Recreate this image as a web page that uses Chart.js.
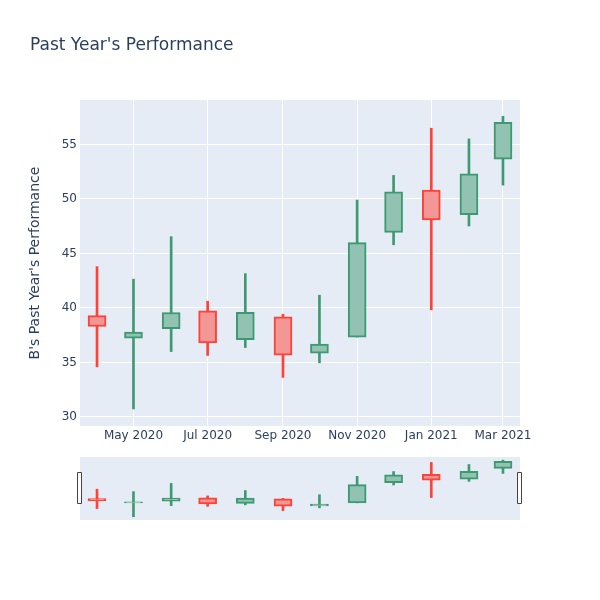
<!DOCTYPE html>
<html>
<head>
<meta charset="utf-8">
<script src="https://cdn.jsdelivr.net/npm/chart.js@4/dist/chart.umd.min.js"></script>
<style>
  body { margin: 0; background: #fff; }
  #wrap { position: relative; width: 600px; height: 600px; }
  #main { position: absolute; left: 0; top: 0; }
  #slider { position: absolute; left: 0; top: 440px; }
</style>
</head>
<body>
<div id="wrap">
  <canvas id="main" width="600" height="455"></canvas>
  <canvas id="slider" width="600" height="100"></canvas>
</div>
<script>
// monthly candles
const months = ['2020-04-01', '2020-05-01', '2020-06-01', '2020-07-01', '2020-08-01', '2020-09-01',
                '2020-10-01', '2020-11-01', '2020-12-01', '2021-01-01', '2021-02-01', '2021-03-01'];
const openVals  = [39.30, 37.23, 38.09, 39.73, 37.08, 39.18, 35.86, 37.33, 46.94, 50.81, 48.55, 53.65];
const highVals  = [43.79, 42.64, 46.54, 40.62, 43.15, 39.43, 41.17, 49.90, 52.16, 56.49, 55.51, 57.59];
const lowVals   = [34.60, 30.73, 36.00, 35.64, 36.37, 33.63, 34.97, 37.33, 45.80, 39.83, 47.52, 51.27];
const closeVals = [38.30, 37.78, 39.58, 36.80, 39.61, 35.68, 36.68, 46.00, 50.66, 48.07, 52.31, 57.04];

const yTicks = [30, 35, 40, 45, 50, 55];
const xTickDates = ['2020-05-01', '2020-07-01', '2020-09-01', '2020-11-01', '2021-01-01', '2021-03-01'];
const xTickLabels = ['May 2020', 'Jul 2020', 'Sep 2020', 'Nov 2020', 'Jan 2021', 'Mar 2021'];

const yRange = [29.17, 59.08];
const xRange = ['2020-03-18', '2021-03-15'];

const UP = '#3D9970', DOWN = '#FF4136';
const UP_FILL = '#92C3B2', DOWN_FILL = '#F29696';
const TEXT = '#2a3f5f';
const FONT = '"DejaVu Sans", verdana, arial, sans-serif';

function dayNum(s) {
  const [y, m, d] = s.split('-').map(Number);
  return Date.UTC(y, m - 1, d) / 86400000;
}

const xs = months.map(dayNum);
const isUp = openVals.map((o, i) => closeVals[i] >= o);

function candleDatasets(bodyW, wickW) {
  return [
    {
      label: 'body',
      data: xs.map((x, i) => ({ x: x, y: [openVals[i], closeVals[i]] })),
      backgroundColor: isUp.map(u => u ? UP_FILL : DOWN_FILL),
      borderColor: isUp.map(u => u ? UP : DOWN),
      borderWidth: 2,
      borderSkipped: false,
      barThickness: bodyW,
      grouped: false
    },
    {
      label: 'wick',
      data: xs.map((x, i) => ({ x: x, y: [lowVals[i], highVals[i]] })),
      backgroundColor: isUp.map(u => u ? UP : DOWN),
      borderWidth: 0,
      barThickness: wickW,
      grouped: false
    }
  ];
}

const plotBg = {
  id: 'plotBg',
  beforeDraw(chart) {
    const { ctx, chartArea: a } = chart;
    ctx.save();
    ctx.fillStyle = '#E5ECF6';
    ctx.fillRect(a.left, a.top, a.right - a.left, a.bottom - a.top);
    ctx.restore();
  }
};

const titlePlugin = {
  id: 'titleText',
  afterDraw(chart) {
    const ctx = chart.ctx;
    ctx.save();
    ctx.font = '17px ' + FONT;
    ctx.fillStyle = TEXT;
    ctx.textBaseline = 'alphabetic';
    ctx.fillText("Past Year's Performance", 30, 50);
    ctx.restore();
  }
};

const handles = {
  id: 'handles',
  afterDraw(chart) {
    const { ctx, chartArea: a } = chart;
    ctx.save();
    ctx.fillStyle = '#fff';
    ctx.strokeStyle = '#444';
    ctx.lineWidth = 1;
    const mid = (a.top + a.bottom) / 2;
    [a.left, a.right].forEach(x => {
      ctx.beginPath();
      ctx.rect(x - 2.5, mid - 16, 4, 31);
      ctx.fill();
      ctx.stroke();
    });
    ctx.restore();
  }
};

new Chart(document.getElementById('main'), {
  type: 'bar',
  data: { datasets: candleDatasets(18, 2) },
  options: {
    responsive: false,
    animation: false,
    layout: { padding: { left: 0, right: 80, top: 100, bottom: 0 } },
    plugins: { legend: { display: false }, tooltip: { enabled: false } },
    scales: {
      x: {
        type: 'linear',
        offset: false,
        min: dayNum(xRange[0]),
        max: dayNum(xRange[1]),
        afterBuildTicks: s => { s.ticks = xTickDates.map(d => ({ value: dayNum(d) })); },
        afterFit: s => { s.height = 29; },
        grid: { color: '#fff', lineWidth: 1, drawTicks: false, offset: false },
        border: { display: false },
        ticks: {
          padding: 3,
          maxRotation: 0,
          autoSkip: false,
          color: TEXT,
          font: { family: FONT, size: 12 },
          callback: (v, i) => xTickLabels[i]
        }
      },
      y: {
        min: yRange[0],
        max: yRange[1],
        afterBuildTicks: s => { s.ticks = yTicks.map(v => ({ value: v })); },
        afterFit: s => { s.width = 80; },
        grid: { color: '#fff', lineWidth: 1, drawTicks: false },
        border: { display: false },
        ticks: { padding: 3, color: TEXT, font: { family: FONT, size: 12 } },
        title: {
          display: true,
          text: "B's Past Year's Performance",
          color: TEXT,
          font: { family: FONT, size: 14 },
          padding: { top: 27, bottom: 0 }
        }
      }
    }
  },
  plugins: [plotBg, titlePlugin]
});

new Chart(document.getElementById('slider'), {
  type: 'bar',
  data: { datasets: candleDatasets(18, 2) },
  options: {
    responsive: false,
    animation: false,
    layout: { padding: { left: 80, right: 80, top: 17, bottom: 20 } },
    plugins: { legend: { display: false }, tooltip: { enabled: false } },
    scales: {
      x: { type: 'linear', display: false, offset: false, min: dayNum(xRange[0]), max: dayNum(xRange[1]) },
      y: { display: false, min: yRange[0], max: yRange[1] }
    }
  },
  plugins: [plotBg, handles]
});
</script>
</body>
</html>
